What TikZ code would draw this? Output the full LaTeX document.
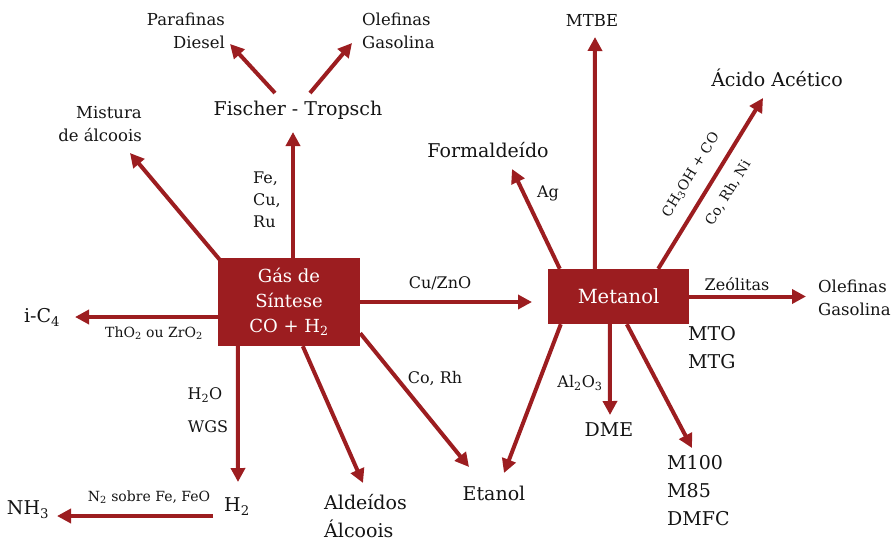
\documentclass[tikz,border=0pt]{standalone}
\usepackage{fontspec}
\setmainfont{DejaVu Serif}
\usepackage{xcolor}
\usetikzlibrary{arrows.meta}
\definecolor{sgred}{HTML}{9C1D20}
\definecolor{ink}{HTML}{141414}

\begin{document}
\begin{tikzpicture}[x=1pt,y=-1pt,
    box/.style={fill=sgred,text=white,inner sep=0pt,align=center,font=\fontsize{18}{25}\selectfont},
    flow/.style={draw=sgred,line width=4pt,-{Triangle[length=14pt,width=14pt]}},
    big/.style={text=ink,inner sep=0pt,font=\fontsize{19}{28}\selectfont},
    mid/.style={text=ink,inner sep=0pt,font=\fontsize{16.5}{23}\selectfont},
    cat/.style={text=ink,inner sep=0pt,font=\fontsize{16}{22}\selectfont},
    tiny/.style={text=ink,inner sep=0pt,font=\fontsize{14}{16}\selectfont}]
  \useasboundingbox (0,0) rectangle (893,538);

  \node[box,minimum width=142pt,minimum height=88pt] (gas) at (289,302)
    {Gás de\\Síntese\\CO + H\textsubscript{2}};
  \node[box,minimum width=141pt,minimum height=55pt,font=\fontsize{19.5}{24}\selectfont]
    (met) at (618.5,296.5) {Metanol};

  \node[big] (ft) at (298,110) {Fischer - Tropsch};
  \node[mid,anchor=east,align=right] (paraf) at (225,31) {Parafinas\\Diesel};
  \node[mid,anchor=west,align=left] (olef) at (362,31) {Olefinas\\Gasolina};
  \node[mid,anchor=east,align=right] (mist) at (142,124) {Mistura\\de álcoois};
  \node[cat,anchor=west,align=left] (fecu) at (253,200) {Fe,\\Cu,\\Ru};
  \node[big] (ic4) at (42,317) {i-C\textsubscript{4}};
  \node[tiny] (thzr) at (154,333) {ThO\textsubscript{2} ou ZrO\textsubscript{2}};
  \node[cat] (h2o) at (205,395) {H\textsubscript{2}O};
  \node[cat] (wgs) at (208,427) {WGS};
  \node[big] (h2) at (237,507) {H\textsubscript{2}};
  \node[big] (nh3) at (28,510) {NH\textsubscript{3}};
  \node[tiny] (n2fe) at (149,497) {N\textsubscript{2} sobre Fe, FeO};
  \node[big,anchor=west,align=left] (alde) at (324,516) {Aldeídos\\Álcoois};
  \node[cat] (corh) at (435,379) {Co, Rh};
  \node[cat] (cuzn) at (440,283) {Cu/ZnO};
  \node[big] (etanol) at (494,493) {Etanol};

  \node[big] (form) at (488,150) {Formaldeído};
  \node[cat] (ag) at (548,193) {Ag};
  \node[mid] (mtbe) at (592,20) {MTBE};
  \node[big] (acet) at (777,78) {Ácido Acético};
  \node[tiny,rotate=58.5] (meco) at (691,175) {CH\textsubscript{3}OH + CO};
  \node[tiny,rotate=58.5] (corhni) at (728,193) {Co, Rh, Ni};
  \node[cat] (zeol) at (737,284) {Zeólitas};
  \node[mid,anchor=west,align=left] (olef2) at (818,298) {Olefinas\\Gasolina};
  \node[big,anchor=west,align=left] (mto) at (688,348) {MTO\\MTG};
  \node[cat] (alox) at (580,383) {Al\textsubscript{2}O\textsubscript{3}};
  \node[big] (dme) at (609,430) {DME};
  \node[big,anchor=west,align=left] (m100) at (667,491) {M100\\M85\\DMFC};

  \coordinate (ftout1) at (275,93);
  \coordinate (ftout2) at (310,93);
  \coordinate (h2out) at (213,516);

  \coordinate (ftin) at (293,132);
  \coordinate (parafin) at (230,44);
  \coordinate (olefin) at (352,43);
  \coordinate (mistin) at (130,153);
  \coordinate (ic4in) at (75,317);
  \coordinate (h2in) at (238,482);
  \coordinate (nh3in) at (57,516);
  \coordinate (aldein) at (363,483);
  \coordinate (etin) at (469,467);
  \coordinate (metin) at (532,302);
  \coordinate (mtbein) at (595,37);
  \coordinate (formin) at (512,169);
  \coordinate (acetin) at (763,98);
  \coordinate (olef2in) at (806,296.5);
  \coordinate (dmein) at (610,415);
  \coordinate (m100in) at (692,448);
  \coordinate (etin2) at (504,473);

  \draw[flow] ([xshift=4pt]gas.north) -- (ftin);
  \draw[flow] (ftout1) -- (parafin);
  \draw[flow] (ftout2) -- (olefin);
  \draw[flow] ([xshift=2pt,yshift=-2pt]gas.north west) -- (mistin);
  \draw[flow] ([yshift=-15pt]gas.west) -- (ic4in);
  \draw[flow] ([xshift=20pt]gas.south west) -- (h2in);
  \draw[flow] (h2out) -- (nh3in);
  \draw[flow] ([xshift=85pt]gas.south west) -- (aldein);
  \draw[flow] ([yshift=13pt]gas.south east) -- (etin);
  \draw[flow] (gas.east) -- (metin);

  \draw[flow] ([xshift=47pt]met.north west) -- (mtbein);
  \draw[flow] ([xshift=12pt]met.north west) -- (formin);
  \draw[flow] ([xshift=-31pt]met.north east) -- (acetin);
  \draw[flow] (met.east) -- (olef2in);
  \draw[flow] ([xshift=62pt]met.south west) -- (dmein);
  \draw[flow] ([xshift=79pt]met.south west) -- (m100in);
  \draw[flow] ([xshift=13pt]met.south west) -- (etin2);
\end{tikzpicture}
\end{document}
